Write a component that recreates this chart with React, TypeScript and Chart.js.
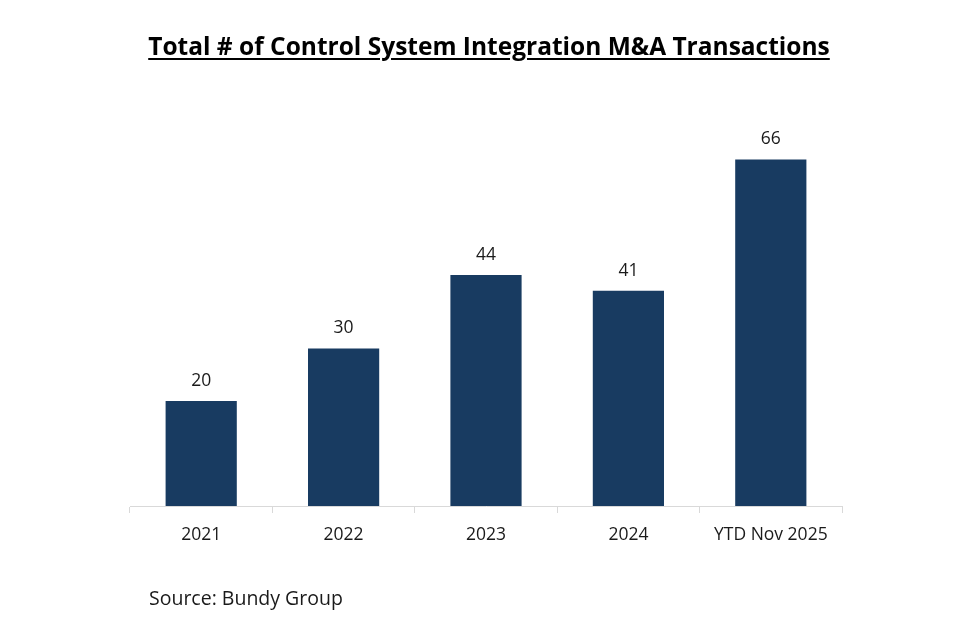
import React, { useEffect, useRef } from "react";
import { Chart, registerables } from "chart.js";

Chart.register(...registerables);

const categories = ["2021", "2022", "2023", "2024", "YTD Nov 2025"];
const transactions = [20, 30, 44, 41, 66];

const FONT = "'Open Sans', Lato, sans-serif";

const valueLabels = {
  id: "valueLabels",
  afterDatasetsDraw(chart: any) {
    const ctx = chart.ctx;
    const meta = chart.getDatasetMeta(0);
    ctx.save();
    ctx.fillStyle = "#1a1a1a";
    ctx.font = `17.5px ${FONT}`;
    ctx.textAlign = "center";
    ctx.textBaseline = "middle";
    meta.data.forEach((bar: any, i: number) => {
      ctx.fillText(String(transactions[i]), bar.x, bar.y - 20);
    });
    ctx.restore();
  },
};

export default function App() {
  const ref = useRef<HTMLCanvasElement | null>(null);
  useEffect(() => {
    document.body.style.margin = "0";
    if (!ref.current) return;
    const chart = new Chart(ref.current, {
      type: "bar",
      data: {
        labels: categories,
        datasets: [
          {
            data: transactions,
            backgroundColor: "#183B61",
            borderWidth: 0,
            categoryPercentage: 1,
            barPercentage: 0.5,
          },
        ],
      },
      options: {
        animation: false,
        responsive: false,
        devicePixelRatio: 1,
        layout: { padding: { top: 86, left: 130, right: 118, bottom: 84 } },
        plugins: { legend: { display: false }, tooltip: { enabled: false } },
        scales: {
          y: { display: false, min: 0, max: 80 },
          x: {
            afterFit(scale: any) {
              scale.height = 40;
            },
            border: { color: "#d9d9d9", width: 1 },
            grid: {
              display: true,
              drawOnChartArea: false,
              drawTicks: true,
              tickLength: 7,
              color: "#d9d9d9",
              offset: true,
            },
            ticks: {
              color: "#1a1a1a",
              font: { family: FONT, size: 17.5 },
              padding: 12,
              maxRotation: 0,
            },
          },
        },
      },
      plugins: [valueLabels],
    });
    return () => chart.destroy();
  }, []);

  return (
    <div style={{ position: "fixed", left: 0, top: 0, width: 960, height: 630, background: "#fff" }}>
      <canvas ref={ref} width={960} height={630} style={{ position: "absolute", left: 0, top: 0 }} />
      <div
        style={{
          position: "absolute",
          top: 31,
          left: 0,
          width: 978,
          textAlign: "center",
          fontFamily: FONT,
          fontWeight: 700,
          fontSize: 24.5,
          color: "#000",
          textDecoration: "underline",
          textUnderlineOffset: 3,
          lineHeight: "30px",
        }}
      >
        Total # of Control System Integration M&amp;A Transactions
      </div>
      <div
        style={{
          position: "absolute",
          top: 585,
          left: 149,
          fontFamily: FONT,
          fontSize: 19.5,
          color: "#1a1a1a",
          lineHeight: "26px",
        }}
      >
        Source: Bundy Group
      </div>
    </div>
  );
}
